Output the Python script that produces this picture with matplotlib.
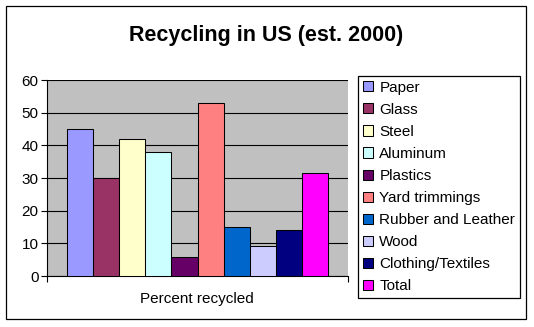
import matplotlib
matplotlib.use('Agg')
import matplotlib.pyplot as plt
from matplotlib.patches import Rectangle

# Chart data
categories = ['Paper', 'Glass', 'Steel', 'Aluminum', 'Plastics', 'Yard trimmings',
              'Rubber and Leather', 'Wood', 'Clothing/Textiles', 'Total']
values = [45, 30, 42, 38, 5.8, 53, 15, 9.2, 14.2, 31.4]
colors = ['#9999FF', '#993366', '#FFFFCC', '#CCFFFF', '#660066', '#FF8080',
          '#0066CC', '#CCCCFF', '#000080', '#FF00FF']
group_label = 'Percent recycled'
yticks = [0, 10, 20, 30, 40, 50, 60]

W, H = 534, 327
plt.rcParams['font.family'] = ['Liberation Sans', 'DejaVu Sans']

fig = plt.figure(figsize=(W / 100, H / 100), dpi=100)
fig.patch.set_facecolor('white')

# outer chart border
fig.patches.append(Rectangle((6 / W, 1 - 319 / H), 520 / W, 313 / H, transform=fig.transFigure,
                             fill=False, edgecolor='black', linewidth=0.9))

fig.text(266 / W, 1 - 41 / H, 'Recycling in US (est. 2000)', ha='center', va='baseline',
         fontsize=15.5, fontweight='bold')

ax = fig.add_axes([47 / W, 1 - 276 / H, 301 / W, 196 / H])
ax.set_facecolor('#C0C0C0')

n = len(values)
group = 0.867
bw = group / n
for i in range(n):
    x = -group / 2 + bw * (i + 0.5)
    ax.bar(x, values[i], width=bw, color=colors[i], edgecolor='black', linewidth=0.75,
           label=categories[i], zorder=3)

ax.set_xlim(-0.5, 0.5)
ax.set_ylim(0, 60)
ax.set_yticks(yticks)
ax.yaxis.grid(True, color='black', linewidth=0.8, zorder=1)
ax.set_axisbelow(True)
ax.set_xticks([-0.5, 0.5])
ax.set_xticklabels(['', ''])
ax.tick_params(axis='x', length=4, width=0.8, direction='out')
ax.tick_params(axis='y', length=4, width=0.8, direction='out', labelsize=11, pad=2)
for s in ['top', 'right']:
    ax.spines[s].set_visible(False)
ax.spines['left'].set_linewidth(0.8)
ax.spines['bottom'].set_linewidth(0.8)

fig.text(197 / W, 1 - 303 / H, group_label, ha='center', va='baseline', fontsize=11)

leg = fig.legend(loc='upper left', bbox_to_anchor=(358 / W, 1 - 76 / H), fontsize=11,
                 fancybox=False, edgecolor='black', framealpha=1, borderpad=0.3,
                 handlelength=0.65, handleheight=0.65, handletextpad=0.45,
                 labelspacing=0.53, borderaxespad=0)
leg.get_frame().set_linewidth(0.9)

fig.savefig('out.png', dpi=100)
